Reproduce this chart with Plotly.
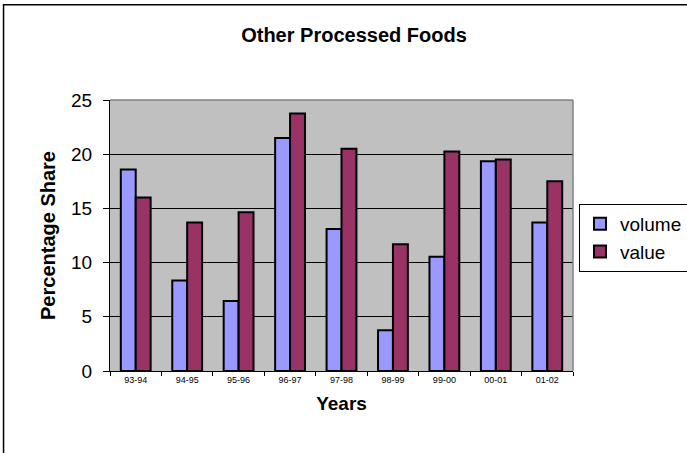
import plotly.graph_objects as go

years = ["93-94", "94-95", "95-96", "96-97", "97-98", "98-99", "99-00", "00-01", "01-02"]
volume = [18.6, 8.35, 6.45, 21.5, 13.1, 3.75, 10.55, 19.35, 13.7]
value = [16.0, 13.7, 14.65, 23.75, 20.5, 11.7, 20.25, 19.5, 17.5]
y_ticks = [0, 5, 10, 15, 20, 25]

W, H = 687, 453
L, R, T, B = 109.5, 114.3, 99.5, 82
pw, ph = W - L - R, H - T - B

fig = go.Figure()
fig.add_trace(go.Bar(x=years, y=volume, name="volume",
                     marker=dict(color="#9999FF", line=dict(color="black", width=2))))
fig.add_trace(go.Bar(x=years, y=value, name="value",
                     marker=dict(color="#993366", line=dict(color="black", width=2))))

font = "Liberation Sans, Arial, sans-serif"
fig.update_layout(
    width=W, height=H,
    margin=dict(l=L, r=R, t=T, b=B, pad=0, autoexpand=False),
    paper_bgcolor="white", plot_bgcolor="#C0C0C0",
    barmode="group", bargap=0.42, bargroupgap=0,
    font=dict(family=font, color="black"),
    title=dict(text="<b>Other Processed Foods</b>", x=354 / W, xref="container",
               y=1 - 35 / H, yref="container", yanchor="middle", xanchor="center",
               font=dict(size=20, family=font)),
    legend=dict(xref="container", yref="container",
                x=579 / W, y=1 - 204 / H, xanchor="left", yanchor="top",
                bgcolor="white", bordercolor="black", borderwidth=1,
                font=dict(size=19, family=font), itemwidth=30, tracegroupgap=0),
    xaxis=dict(
        type="category",
        title=dict(text="<b>Years</b>", font=dict(size=19), standoff=12),
        tickfont=dict(size=9), ticks="outside", tickson="boundaries",
        ticklen=4, tickcolor="black", showline=True, linecolor="black",
        mirror=False, showgrid=False,
    ),
    yaxis=dict(
        title=dict(text="<b>Percentage Share</b>", font=dict(size=20), standoff=10),
        range=[0, 25], tickvals=y_ticks, tickfont=dict(size=19),
        ticks="outside", ticklen=6, tickcolor="black", ticklabelstandoff=7,
        showline=True, linecolor="black", showgrid=True, gridcolor="black", gridwidth=1,
        zeroline=False,
    ),
    shapes=[
        # grey frame around the plotting area (top and right)
        dict(type="line", xref="paper", yref="paper", x0=0, x1=1, y0=1, y1=1,
             line=dict(color="#808080", width=1.5)),
        dict(type="line", xref="paper", yref="paper", x0=1, x1=1, y0=0, y1=1,
             line=dict(color="#808080", width=1.5)),
        # outer chart border
        dict(type="rect", xref="paper", yref="paper",
             x0=(3 - L) / pw, x1=(W + 5 - L) / pw,
             y0=(H - B - (H + 5)) / ph, y1=(H - B - 4) / ph,
             line=dict(color="black", width=1.5), layer="below"),
    ],
)

fig.write_html("out.html")
